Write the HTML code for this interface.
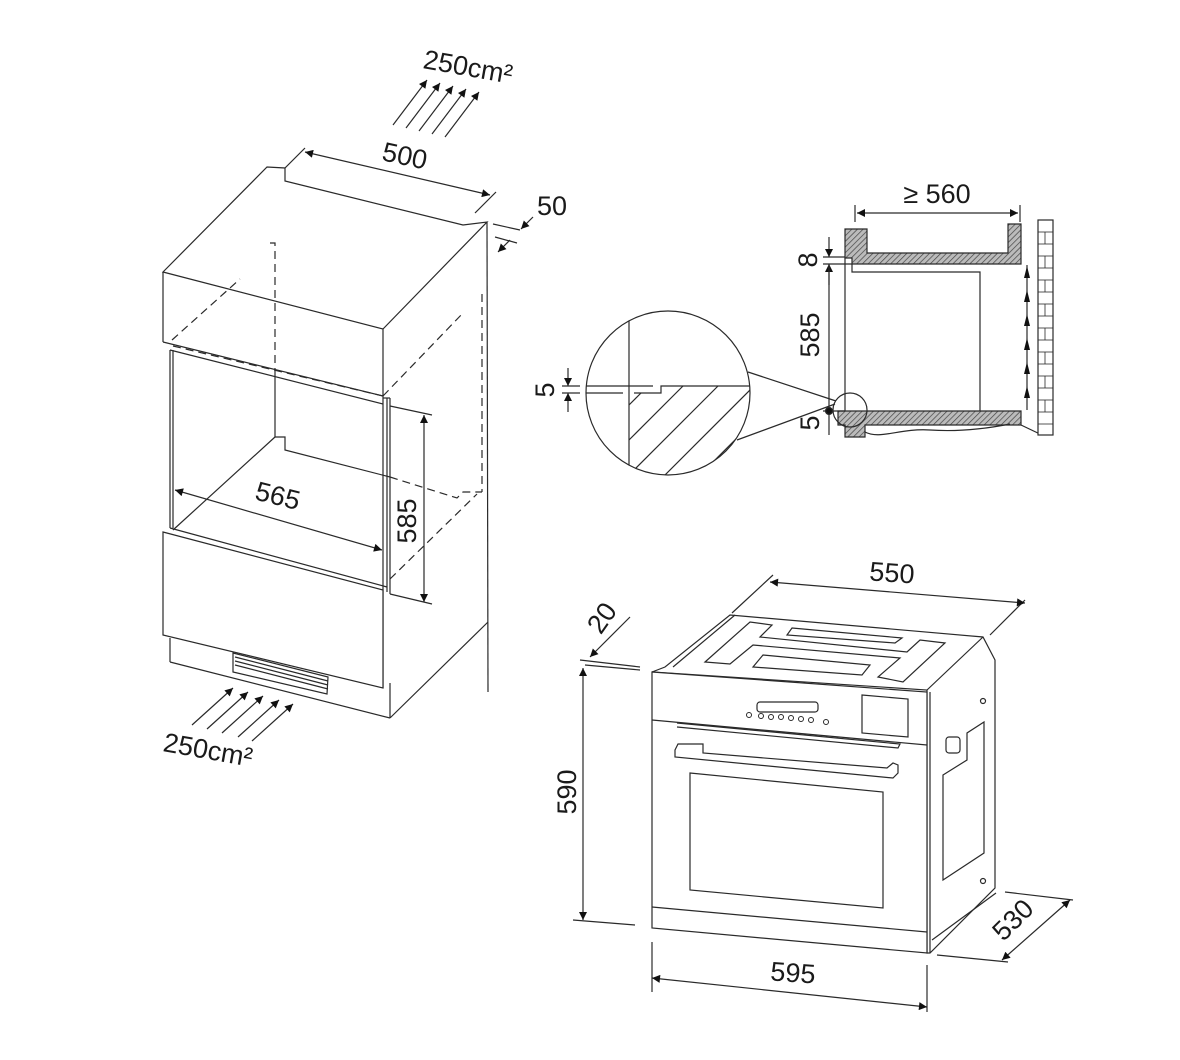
<!DOCTYPE html>
<html><head><meta charset="utf-8"><style>
html,body{margin:0;padding:0;background:#fff;}
svg{display:block;}
text{font-family:"Liberation Sans",sans-serif;fill:#1a1a1a;}
</style></head><body>
<svg width="1180" height="1060" viewBox="0 0 1180 1060" xmlns="http://www.w3.org/2000/svg">
<defs>
<marker id="ah" viewBox="0 0 10 10" refX="10" refY="5" markerWidth="12" markerHeight="8" orient="auto-start-reverse" markerUnits="userSpaceOnUse"><path d="M0,0 L10,5 L0,10 z" fill="#111"/></marker>
<pattern id="hat" width="4" height="4" patternUnits="userSpaceOnUse" patternTransform="rotate(45)"><rect width="4" height="4" fill="#bbb"/><line x1="0" y1="0" x2="0" y2="4" stroke="#444" stroke-width="1.4"/></pattern>
<clipPath id="cc"><circle cx="668" cy="393" r="82"/></clipPath>
</defs>
<g fill="none" stroke="#2a2a2a" stroke-width="1.2">
<!-- LEFT CABINET -->
<polygon points="163,272 267,167 285,168 285,181 463,225 487,222 383,329" fill="#fff"/>
<line x1="163" y1="272" x2="163" y2="342"/>
<line x1="163" y1="342" x2="383" y2="396"/>
<line x1="170" y1="350" x2="383" y2="404"/>
<line x1="383" y1="329" x2="383" y2="688"/>
<line x1="487" y1="222" x2="488" y2="692"/>
<line x1="390" y1="718" x2="488" y2="622"/>
<line x1="390" y1="683" x2="390" y2="718"/>
<line x1="170" y1="350" x2="170" y2="528"/>
<line x1="173" y1="350" x2="173" y2="528"/>
<line x1="387" y1="398" x2="387" y2="592"/>
<line x1="383" y1="398" x2="390" y2="398"/>
<line x1="390" y1="398" x2="390" y2="594"/>
<!-- back wall -->
<line x1="275" y1="371" x2="275" y2="437"/>
<polyline points="275,437 285,437 285,450 390,477"/>
<line x1="173" y1="530" x2="275" y2="437"/>
<!-- drawer -->
<polygon points="163,532 383,590 383,688 163,635" fill="#fff"/>
<line x1="170" y1="528" x2="387" y2="587"/>
<line x1="170" y1="638" x2="170" y2="662"/>
<line x1="170" y1="662" x2="390" y2="718"/>
<polygon points="233,653 328,677 327,694 233,672"/>
<line x1="235" y1="657" x2="328" y2="681"/><line x1="235" y1="661" x2="328" y2="685"/><line x1="235" y1="665" x2="328" y2="689"/>
<!-- dashed -->
<g stroke-dasharray="8,5">
<polyline points="270,243 275,243 275,371"/>
<line x1="172" y1="340" x2="240" y2="279"/>
<line x1="383" y1="396" x2="463" y2="313"/>
<line x1="173" y1="346" x2="383" y2="396"/>
<line x1="482" y1="294" x2="482" y2="492"/>
<polyline points="390,477 457,498 463,492 482,492"/>
<line x1="390" y1="579" x2="477" y2="494"/>
</g>
<!-- 500 dim -->
<line x1="305" y1="152" x2="490" y2="195" marker-start="url(#ah)" marker-end="url(#ah)"/>
<line x1="285" y1="168" x2="305" y2="148"/>
<line x1="475" y1="213" x2="496" y2="192"/>
<!-- 50 dim -->
<line x1="493" y1="224" x2="520" y2="230"/>
<line x1="495" y1="237" x2="517" y2="243"/>
<line x1="533" y1="217" x2="521" y2="229" marker-end="url(#ah)"/>
<line x1="498" y1="252" x2="510" y2="240" marker-start="url(#ah)"/>
<!-- 565 -->
<line x1="175" y1="490" x2="382" y2="550" marker-start="url(#ah)" marker-end="url(#ah)"/>
<!-- 585 -->
<line x1="390" y1="406" x2="432" y2="415"/>
<line x1="390" y1="594" x2="432" y2="604"/>
<line x1="424" y1="415" x2="424" y2="602" marker-start="url(#ah)" marker-end="url(#ah)"/>
<!-- airflow arrows top -->
<g>
<line x1="393" y1="125" x2="427" y2="80" marker-end="url(#ah)"/>
<line x1="406" y1="128" x2="440" y2="83" marker-end="url(#ah)"/>
<line x1="419" y1="131" x2="453" y2="86" marker-end="url(#ah)"/>
<line x1="432" y1="134" x2="466" y2="89" marker-end="url(#ah)"/>
<line x1="445" y1="137" x2="479" y2="92" marker-end="url(#ah)"/>
</g>
<g>
<line x1="192" y1="725" x2="233" y2="688" marker-end="url(#ah)"/>
<line x1="207" y1="729" x2="248" y2="692" marker-end="url(#ah)"/>
<line x1="222" y1="733" x2="263" y2="696" marker-end="url(#ah)"/>
<line x1="238" y1="737" x2="279" y2="700" marker-end="url(#ah)"/>
<line x1="252" y1="741" x2="293" y2="704" marker-end="url(#ah)"/>
</g>

<!-- SECTION RIGHT -->
<line x1="855" y1="205" x2="855" y2="222"/>
<line x1="1020" y1="205" x2="1020" y2="222"/>
<line x1="857" y1="213" x2="1018" y2="213" marker-start="url(#ah)" marker-end="url(#ah)"/>
<polygon points="845,229 867,229 867,253 1008,253 1008,224 1021,224 1021,264 852,264 852,258 845,258" fill="url(#hat)"/>
<line x1="845" y1="258" x2="845" y2="411"/>
<polyline points="852,264 852,272 980,272 980,411"/>
<polygon points="838,411 1021,411 1021,425 865,425 865,437 845,437 845,425 838,425" fill="url(#hat)"/>
<path d="M865,432 C880,440 900,428 930,430 C960,432 990,428 1010,424"/>
<line x1="1021" y1="425" x2="1042" y2="435"/>
<rect x="1038" y="220" width="15" height="215" fill="#fff"/>
<g stroke-width="0.8">
<line x1="1038" y1="232" x2="1053" y2="232"/><line x1="1038" y1="244" x2="1053" y2="244"/><line x1="1038" y1="256" x2="1053" y2="256"/><line x1="1038" y1="268" x2="1053" y2="268"/><line x1="1038" y1="280" x2="1053" y2="280"/><line x1="1038" y1="292" x2="1053" y2="292"/><line x1="1038" y1="304" x2="1053" y2="304"/><line x1="1038" y1="316" x2="1053" y2="316"/><line x1="1038" y1="328" x2="1053" y2="328"/><line x1="1038" y1="340" x2="1053" y2="340"/><line x1="1038" y1="352" x2="1053" y2="352"/><line x1="1038" y1="364" x2="1053" y2="364"/><line x1="1038" y1="376" x2="1053" y2="376"/><line x1="1038" y1="388" x2="1053" y2="388"/><line x1="1038" y1="400" x2="1053" y2="400"/><line x1="1038" y1="412" x2="1053" y2="412"/><line x1="1038" y1="424" x2="1053" y2="424"/>
<line x1="1045" y1="232" x2="1045" y2="424" stroke-dasharray="12,12"/>
</g>
<line x1="1027" y1="410" x2="1027" y2="265"/>
<g fill="#111" stroke="none">
<path d="M1027,266 l-3,12 h6z"/><path d="M1027,290 l-3,12 h6z"/><path d="M1027,314 l-3,12 h6z"/><path d="M1027,338 l-3,12 h6z"/><path d="M1027,362 l-3,12 h6z"/><path d="M1027,386 l-3,12 h6z"/>
</g>
<line x1="823" y1="257" x2="845" y2="257"/>
<line x1="823" y1="264" x2="852" y2="264"/>
<line x1="829" y1="237" x2="829" y2="257" marker-end="url(#ah)"/>
<line x1="829" y1="285" x2="829" y2="264" marker-end="url(#ah)"/>
<line x1="829" y1="264" x2="829" y2="435"/>
<line x1="823" y1="411" x2="845" y2="411"/>
<circle cx="829" cy="411" r="3.5" fill="#111"/>
<circle cx="850" cy="410" r="17"/>
<line x1="748" y1="372" x2="836" y2="401"/>
<line x1="737" y1="440" x2="835" y2="404"/>
<!-- magnifier -->
<circle cx="668" cy="393" r="82" fill="#fff"/>
<g clip-path="url(#cc)">
<line x1="629" y1="300" x2="629" y2="480"/>
<polyline points="580,386 653,386"/>
<polyline points="580,393 623,393"/>
<polyline points="634,393 661,393 661,386 760,386"/>
<g>
<line x1="629" y1="405" x2="641" y2="393"/>
<line x1="629" y1="440" x2="683" y2="386"/>
<line x1="629" y1="475" x2="718" y2="386"/>
<line x1="655" y1="485" x2="754" y2="386"/>
<line x1="690" y1="485" x2="760" y2="415"/>
</g>
</g>
<line x1="568" y1="368" x2="568" y2="386" marker-end="url(#ah)"/>
<line x1="568" y1="412" x2="568" y2="393" marker-end="url(#ah)"/>
<line x1="562" y1="386" x2="580" y2="386"/>
<line x1="562" y1="393" x2="580" y2="393"/>

<!-- OVEN -->
<polygon points="652,672 665,667 730,615 983,637 995,660 995,888 930,953 927,953 927,690" fill="#fff"/>
<line x1="673" y1="667" x2="735" y2="615"/>
<line x1="927" y1="690" x2="983" y2="637"/>
<polygon points="652,672 927,692 927,953 652,928" fill="#fff"/>
<line x1="930" y1="692" x2="930" y2="953"/>
<line x1="652" y1="720" x2="927" y2="745"/>
<line x1="652" y1="907" x2="927" y2="932"/>
<polygon points="705,662 750,622 772,625 760,637 907,652 920,640 945,643 903,682 878,677 900,658 753,645 730,664"/>
<polygon points="792,628 902,638 895,643 787,635"/>
<polygon points="763,655 870,665 862,675 753,667"/>
<rect x="757" y="702" width="61" height="10" rx="3"/>
<g stroke-width="1">
<circle cx="749" cy="715" r="2.5"/><circle cx="761" cy="716" r="2.5"/><circle cx="771" cy="717" r="2.5"/><circle cx="781" cy="717" r="2.5"/><circle cx="791" cy="718" r="2.5"/><circle cx="801" cy="719" r="2.5"/><circle cx="811" cy="720" r="2.5"/><circle cx="826" cy="722" r="2.5"/>
</g>
<polygon points="862,695 908,699 908,737 862,733"/>
<polyline points="677,723 900,744 898,748 677,727"/>
<polygon points="675,750 678,744 703,744 703,753 887,768 893,763 898,765 898,773 893,778 675,757"/>
<polygon points="690,773 883,792 883,908 690,890"/>
<polygon points="943,775 967,760 967,733 984,722 984,853 943,880"/>
<rect x="946" y="737" width="14" height="16" rx="3"/>
<circle cx="983" cy="701" r="2.5"/><circle cx="983" cy="881" r="2.5"/>
<line x1="932" y1="940" x2="996" y2="893"/>
<!-- oven dims -->
<line x1="732" y1="613" x2="773" y2="575"/>
<line x1="990" y1="635" x2="1025" y2="600"/>
<line x1="770" y1="582" x2="1025" y2="603" marker-start="url(#ah)" marker-end="url(#ah)"/>
<line x1="580" y1="660" x2="640" y2="667"/>
<line x1="585" y1="665" x2="640" y2="670"/>
<line x1="630" y1="617" x2="590" y2="657" marker-end="url(#ah)"/>
<line x1="583" y1="668" x2="583" y2="920" marker-start="url(#ah)" marker-end="url(#ah)"/>
<line x1="573" y1="920" x2="635" y2="925"/>
<line x1="652" y1="942" x2="652" y2="992"/>
<line x1="927" y1="965" x2="927" y2="1012"/>
<line x1="652" y1="978" x2="927" y2="1007" marker-start="url(#ah)" marker-end="url(#ah)"/>
<line x1="937" y1="955" x2="1008" y2="962"/>
<line x1="1005" y1="892" x2="1073" y2="900"/>
<line x1="1002" y1="960" x2="1070" y2="900" marker-start="url(#ah)" marker-end="url(#ah)"/>
</g>

<!-- TEXT -->
<text x="468" y="76" font-size="27" text-anchor="middle" transform="rotate(10 468 67)">250cm²</text>
<text x="405" y="165" font-size="27" text-anchor="middle" transform="rotate(12 405 155)">500</text>
<text x="552" y="215" font-size="27" text-anchor="middle">50</text>
<text x="278" y="505" font-size="27" text-anchor="middle" transform="rotate(14 278 495)">565</text>
<text x="407" y="530" font-size="27" text-anchor="middle" transform="rotate(-90 407 521)">585</text>
<text x="208" y="759" font-size="27" text-anchor="middle" transform="rotate(10 208 750)">250cm²</text>
<text x="937" y="203" font-size="27" text-anchor="middle">≥ 560</text>
<text x="808" y="269" font-size="27" text-anchor="middle" transform="rotate(-90 808 260)">8</text>
<text x="810" y="344" font-size="27" text-anchor="middle" transform="rotate(-90 810 335)">585</text>
<text x="810" y="432" font-size="27" text-anchor="middle" transform="rotate(-90 810 423)">5</text>
<text x="545" y="399" font-size="27" text-anchor="middle" transform="rotate(-90 545 390)">5</text>
<text x="892" y="582" font-size="27" text-anchor="middle" transform="rotate(4 892 573)">550</text>
<text x="602" y="627" font-size="27" text-anchor="middle" transform="rotate(-55 602 618)">20</text>
<text x="567" y="801" font-size="27" text-anchor="middle" transform="rotate(-90 567 792)">590</text>
<text x="793" y="982" font-size="27" text-anchor="middle" transform="rotate(4 793 973)">595</text>
<text x="1013" y="929" font-size="27" text-anchor="middle" transform="rotate(-45 1013 920)">530</text>
</svg>
</body></html>
